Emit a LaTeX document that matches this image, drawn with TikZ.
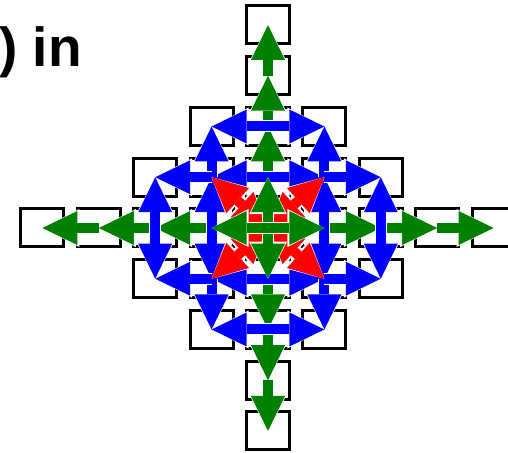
\documentclass[tikz,border=0pt]{standalone}
\usepackage{fontspec}
\setmainfont{Liberation Sans}
\usetikzlibrary{arrows.meta}

\tikzset{
    hd/.tip={Triangle[length=17.5pt, width=17pt, line width=0pt]},
    hdw/.tip={Triangle[length=18.5pt, width=19pt, line width=0pt]}
}

\begin{document}
\begin{tikzpicture}[
    x=28.2pt, y=25.375pt,
    cell/.style={draw, line width=1.5pt, fill=white, minimum width=21.5pt, minimum height=19pt, inner sep=0pt},
    mv/.style={line width=5pt, -hd, preaction={draw=white, line width=6pt, -hdw}},
    grn/.style={mv, draw=green!50!black},
    blu/.style={mv, draw=blue},
    rd/.style={line width=5pt, hd-hd, draw=red, preaction={draw=white, line width=6pt, hdw-hdw}}
]
    \useasboundingbox (-134pt,-112.5pt) rectangle (120pt,114pt);
    \node[font=\bfseries\fontsize{27.5}{33}\selectfont, anchor=base west, inner sep=0pt] (ttl) at (-134.5pt,80.5pt) {) in};

    % the cells: a diamond plus the ends of the axes
    \foreach \i in {-4,...,4}
      \foreach \j in {-4,...,4} {
        \pgfmathtruncatemacro\dist{abs(\i)+abs(\j)}
        \pgfmathtruncatemacro\onaxis{\i*\j==0}
        \ifnum\dist<4
            \node[cell] (c\i\j) at (\i,\j) {};
        \else\ifnum\dist=4 \ifnum\onaxis=1
            \node[cell] (c\i\j) at (\i,\j) {};
        \fi\fi\fi
      }

    % straight steps along the axes
    \foreach \k [evaluate=\k as \n using int(\k+1)] in {1,2,3} {
        \draw[grn] (c0\k.center) -- (c0\n.center);
        \draw[grn] (c0-\k.center) -- (c0-\n.center);
        \draw[grn] (c\k0.center) -- (c\n0.center);
        \draw[grn] (c-\k0.center) -- (c-\n0.center);
    }

    % side steps off the axes
    \foreach \sx in {1,-1}
      \foreach \sy in {1,-1} {
        \pgfmathtruncatemacro\tx{2*\sx}
        \pgfmathtruncatemacro\ty{2*\sy}
        \draw[blu] (c0\sy.center) -- (c\sx\sy.center);
        \draw[blu] (c\sx0.center) -- (c\sx\sy.center);
        \draw[blu] (c0\ty.center) -- (c\sx\ty.center);
        \draw[blu] (c\sx\sy.center) -- (c\sx\ty.center);
        \draw[blu] (c\sx\sy.center) -- (c\tx\sy.center);
        \draw[blu] (c\tx0.center) -- (c\tx\sy.center);
      }

    % diagonals from the middle
    \foreach \sx in {1,-1}
      \foreach \sy in {1,-1}
        \draw[rd] (c00.center) -- (c\sx\sy.center);

    \foreach \t in {c01,c0-1,c10,c-10}
        \draw[grn] (c00.center) -- (\t.center);
\end{tikzpicture}
\end{document}
